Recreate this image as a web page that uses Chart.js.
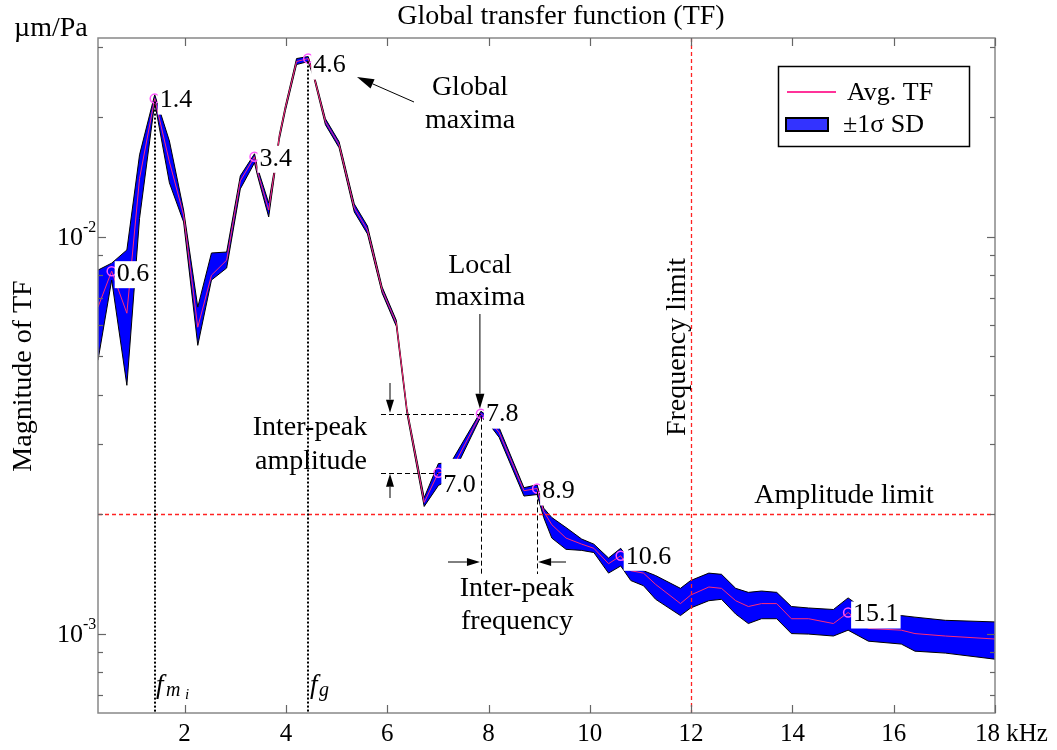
<!DOCTYPE html>
<html><head><meta charset="utf-8">
<script src="https://cdn.jsdelivr.net/npm/chart.js@4/dist/chart.umd.min.js"></script>
<style>html,body{margin:0;padding:0;background:#fff;}canvas{display:block;}</style>
</head><body>
<canvas id="c" width="1057" height="750"></canvas>
<script>
// ---- data ----
const freqKHz = [0.29,0.56,0.86,1.11,1.41,1.70,1.98,2.26,2.53,2.83,3.10,3.38,3.44,3.66,3.77,3.87,3.99,4.21,4.44,4.56,4.78,5.05,5.35,5.61,5.90,6.18,6.39,6.73,7.01,7.26,7.85,8.05,8.21,8.70,8.96,9.09,9.25,9.53,9.84,10.08,10.37,10.61,10.81,11.06,11.30,11.79,11.99,12.35,12.60,12.88,13.13,13.39,13.69,13.98,14.32,14.81,15.10,15.50,16.15,16.42,17.02,18.00];
const avgTF = [0.00664,0.00818,0.00641,0.01400,0.02225,0.01542,0.01133,0.00591,0.00799,0.00872,0.01381,0.01588,0.01455,0.01166,0.01447,0.01784,0.02111,0.02759,0.02807,0.02513,0.01946,0.01703,0.01180,0.01038,0.00733,0.00605,0.00365,0.00214,0.00254,0.00257,0.00358,0.00340,0.00321,0.00229,0.00232,0.00203,0.00188,0.00174,0.00168,0.00164,0.00150,0.00157,0.00144,0.00142,0.00133,0.00119,0.00125,0.00131,0.00130,0.00121,0.00117,0.00119,0.00119,0.00109,0.00109,0.00106,0.00113,0.00103,0.00102,0.00100,0.000986,0.000969];
const upperSD = [0.00823,0.00857,0.00925,0.01606,0.02277,0.01740,0.01166,0.00664,0.00909,0.00914,0.01422,0.01616,0.01489,0.01215,0.01472,0.01805,0.02136,0.02807,0.02840,0.02543,0.01980,0.01733,0.01208,0.01063,0.00746,0.00615,0.00369,0.00220,0.00268,0.00270,0.00363,0.00348,0.00330,0.00233,0.00237,0.00207,0.00196,0.00185,0.00173,0.00168,0.00155,0.00164,0.00151,0.00144,0.00140,0.00130,0.00136,0.00142,0.00141,0.00130,0.00127,0.00128,0.00127,0.00117,0.00116,0.00115,0.00123,0.00113,0.00111,0.00110,0.00108,0.00107];
const lowerSD = [0.00488,0.00777,0.00422,0.01110,0.02174,0.01365,0.01088,0.00532,0.00777,0.00833,0.01318,0.01533,0.01422,0.01120,0.01413,0.01753,0.02074,0.02711,0.02759,0.02485,0.01912,0.01673,0.01153,0.01015,0.00720,0.00594,0.00358,0.00209,0.00236,0.00246,0.00352,0.00332,0.00312,0.00222,0.00224,0.00196,0.00174,0.00163,0.00162,0.00160,0.00142,0.00148,0.00136,0.00132,0.00122,0.00111,0.00116,0.00121,0.00122,0.00112,0.00106,0.00109,0.00109,0.00100,0.000997,0.000986,0.00102,0.000957,0.000941,0.000903,0.000893,0.000862];
const peakIdx = [1,4,11,18,28,30,34,41,56];
const peakLabels = ['0.6','1.4','3.4','4.6','7.0','7.8','8.9','10.6','15.1'];
const xTicks = [2,4,6,8,10,12,14,16,18];
const xTickLabels = ['2','4','6','8','10','12','14','16','18 kHz'];
const yMajor = [0.001, 0.01];
const yMajorLabels = [['10','-3'],['10','-2']];
const yMinor = [0.0007,0.0008,0.0009,0.002,0.003,0.004,0.005,0.006,0.007,0.008,0.009,0.02,0.03];
const X_MIN = 0.29, X_MAX = 18;
const Y_MIN = Math.pow(10,-3.2), Y_MAX = Math.pow(10,-1.5);
const AMP_LIMIT = 0.002, FREQ_LIMIT = 12;

const pts = arr => freqKHz.map((f,i)=>({x:f,y:arr[i]}));
const peakPts = peakIdx.map(i=>({x:freqKHz[i],y:avgTF[i]}));

const SERIF = '"Liberation Serif","Times New Roman",serif';
const BLUE = '#0000ff', PINK = '#ff2a78';

function arrow(ctx,x1,y1,x2,y2,hl,hw){
  const ang=Math.atan2(y2-y1,x2-x1);
  const bx=x2-hl*Math.cos(ang), by=y2-hl*Math.sin(ang);
  ctx.beginPath();ctx.moveTo(x1,y1);ctx.lineTo(bx,by);ctx.stroke();
  ctx.beginPath();ctx.moveTo(x2,y2);
  ctx.lineTo(bx+hw/2*Math.sin(ang),by-hw/2*Math.cos(ang));
  ctx.lineTo(bx-hw/2*Math.sin(ang),by+hw/2*Math.cos(ang));
  ctx.closePath();ctx.fill();
}
function seg(ctx,x1,y1,x2,y2){ctx.beginPath();ctx.moveTo(x1,y1);ctx.lineTo(x2,y2);ctx.stroke();}

const ann = {
  id:'ann',
  afterDatasetsDraw(chart){
    const {ctx, chartArea:a, scales:{x,y}} = chart;
    ctx.save();
    // limit lines
    ctx.strokeStyle='#ff2222'; ctx.lineWidth=1.3; ctx.setLineDash([4,3]);
    const ya=Math.round(y.getPixelForValue(AMP_LIMIT))+0.5;
    seg(ctx,a.left,ya,a.right,ya);
    const xf=Math.round(x.getPixelForValue(FREQ_LIMIT))+0.5;
    seg(ctx,xf,a.top,xf,a.bottom);
    // dotted f_mi and f_g
    ctx.strokeStyle='#000'; ctx.lineWidth=2; ctx.setLineDash([2,2]);
    [4,18].forEach(i=>{
      const px=Math.round(x.getPixelForValue(freqKHz[i]));
      seg(ctx,px,y.getPixelForValue(avgTF[i])+3,px,a.bottom);
    });
    // inter-peak dashed guides
    ctx.lineWidth=1; ctx.setLineDash([5,3]);
    const p78x=x.getPixelForValue(freqKHz[30]), p78y=y.getPixelForValue(avgTF[30]);
    const p70x=x.getPixelForValue(freqKHz[28]), p70y=y.getPixelForValue(avgTF[28]);
    const p89x=x.getPixelForValue(freqKHz[34]), p89y=y.getPixelForValue(avgTF[34]);
    seg(ctx,381,Math.round(p78y)+0.5,p78x,Math.round(p78y)+0.5);
    seg(ctx,381,Math.round(p70y)+0.5,p70x,Math.round(p70y)+0.5);
    seg(ctx,Math.round(p78x)+0.5,p78y+3,Math.round(p78x)+0.5,574);
    seg(ctx,Math.round(p89x)+0.5,p89y+3,Math.round(p89x)+0.5,574);
    ctx.setLineDash([]);
    ctx.fillStyle='#000'; ctx.strokeStyle='#000'; ctx.lineWidth=1;
    arrow(ctx,390,383,390,p78y-1,13,8);
    arrow(ctx,390,498,390,p70y+1,13,8);
    arrow(ctx,448,562,p78x-1,562,13,8);
    arrow(ctx,566,562,p89x+1,562,13,8);
    arrow(ctx,p78x-1,314,p78x-1,p78y-5,15,9);
    arrow(ctx,414,102,357,77,17,10);

    // peak labels with white boxes
    const lblDy=[2,1,1,6,11,0,2,0,1];
    const lblBoxUp=[0,0,0,0,13,0,0,0,0];
    ctx.font='26px '+SERIF; ctx.textBaseline='middle'; ctx.textAlign='left';
    peakIdx.forEach((i,k)=>{
      const px=x.getPixelForValue(freqKHz[i]), py=y.getPixelForValue(avgTF[i])+lblDy[k];
      const w=ctx.measureText(peakLabels[k]).width;
      ctx.fillStyle='#fff'; ctx.fillRect(px+3,py-12-lblBoxUp[k],w+4,27+lblBoxUp[k]);
      ctx.fillStyle='#000'; ctx.fillText(peakLabels[k],px+5,py+1);
    });

    // annotation texts
    ctx.font='28px '+SERIF; ctx.textAlign='center'; ctx.fillStyle='#000';
    ctx.fillText('Global',470,88); ctx.fillText('maxima',470,121);
    ctx.fillText('Local',480,266); ctx.fillText('maxima',480,298);
    ctx.fillText('Inter-peak',310,428); ctx.fillText('amplitude',311,462);
    ctx.fillText('Inter-peak',517,589); ctx.fillText('frequency',517,622);
    ctx.fillText('Amplitude limit',844,496);
    ctx.save(); ctx.translate(678,347); ctx.rotate(-Math.PI/2);
    ctx.fillText('Frequency limit',0,0); ctx.restore();
    // f labels
    ctx.textAlign='left';
    ctx.font='italic 27px '+SERIF; ctx.fillText('f',156,686);
    ctx.font='italic 20px '+SERIF; ctx.fillText('m',166,691);
    ctx.font='italic 15px '+SERIF; ctx.fillText('i',185,695);
    ctx.font='italic 27px '+SERIF; ctx.fillText('f',310,686);
    ctx.font='italic 20px '+SERIF; ctx.fillText('g',319,691);

    // legend
    ctx.fillStyle='#fff'; ctx.fillRect(778,66,191,80);
    ctx.strokeStyle='#000'; ctx.lineWidth=1.5; ctx.strokeRect(778.5,66.5,191,80);
    ctx.strokeStyle='#ff3399'; ctx.lineWidth=2; seg(ctx,787,92,836,92);
    ctx.fillStyle='#3333ff'; ctx.fillRect(786,118,42,13);
    ctx.strokeStyle='#000'; ctx.lineWidth=2; ctx.strokeRect(786,118,42,13);
    ctx.fillStyle='#000'; ctx.font='26px '+SERIF; ctx.textAlign='left';
    ctx.fillText('Avg. TF',847,93); ctx.fillText('\u00b11\u03c3 SD',843,125);

    // axes box and ticks
    ctx.strokeStyle='#888'; ctx.lineWidth=1.5;
    ctx.strokeRect(a.left,a.top,a.right-a.left,a.bottom-a.top);
    ctx.lineWidth=1.2; ctx.strokeStyle='#666';
    xTicks.forEach(t=>{
      const px=Math.round(x.getPixelForValue(t))+0.5;
      seg(ctx,px,a.bottom,px,a.bottom-8); seg(ctx,px,a.top,px,a.top+8);
    });
    yMajor.forEach(t=>{
      const py=Math.round(y.getPixelForValue(t))+0.5;
      seg(ctx,a.left,py,a.left+8,py); seg(ctx,a.right,py,a.right-8,py);
    });
    yMinor.forEach(t=>{
      const py=Math.round(y.getPixelForValue(t))+0.5;
      seg(ctx,a.left,py,a.left+5,py); seg(ctx,a.right,py,a.right-5,py);
    });
    // tick labels
    ctx.fillStyle='#000'; ctx.textBaseline='middle';
    ctx.font='25px '+SERIF;
    xTicks.forEach((t,k)=>{
      const px=x.getPixelForValue(t);
      if(k===xTicks.length-1){ctx.textAlign='left'; ctx.fillText(xTickLabels[k],px-20,734);}
      else {ctx.textAlign='center'; ctx.fillText(xTickLabels[k],px,734);}
    });
    yMajor.forEach((t,k)=>{
      const py=y.getPixelForValue(t);
      ctx.font='26px '+SERIF; ctx.textAlign='right'; ctx.fillText(yMajorLabels[k][0],83,py+2);
      ctx.font='16px '+SERIF; ctx.textAlign='left'; ctx.fillText(yMajorLabels[k][1],83,py-9);
    });
    // titles
    ctx.font='28px '+SERIF; ctx.textAlign='center';
    ctx.fillText('Global transfer function (TF)',561,17);
    ctx.textAlign='left'; ctx.fillText('\u00b5m/Pa',14,29);
    ctx.save(); ctx.translate(24,376); ctx.rotate(-Math.PI/2); ctx.textAlign='center';
    ctx.fillText('Magnitude of TF',0,0); ctx.restore();
    ctx.restore();
  }
};

new Chart(document.getElementById('c'),{
  type:'line',
  data:{datasets:[
    {label:'upper',data:pts(upperSD),borderColor:'#000',borderWidth:1,backgroundColor:BLUE,fill:'+1',pointRadius:0,tension:0,order:3},
    {label:'lower',data:pts(lowerSD),borderColor:'#000',borderWidth:1,fill:false,pointRadius:0,tension:0,order:2},
    {label:'Avg. TF',data:pts(avgTF),borderColor:PINK,borderWidth:1,fill:false,pointRadius:0,tension:0,order:1},
    {label:'peaks',data:peakPts,showLine:false,pointRadius:4.5,pointStyle:'circle',pointBorderColor:'#ff55ff',pointBackgroundColor:'rgba(0,0,0,0)',pointBorderWidth:1.5,order:0}
  ]},
  options:{
    responsive:false, animation:false, devicePixelRatio:1,
    layout:{padding:{left:98,right:62,top:38,bottom:37}},
    scales:{
      x:{type:'linear',min:X_MIN,max:X_MAX,bounds:'data',display:false},
      y:{type:'logarithmic',min:Y_MIN,max:Y_MAX,bounds:'data',display:false}
    },
    plugins:{legend:{display:false},tooltip:{enabled:false},filler:{drawTime:'beforeDatasetsDraw'}}
  },
  plugins:[ann]
});
</script>
</body></html>
